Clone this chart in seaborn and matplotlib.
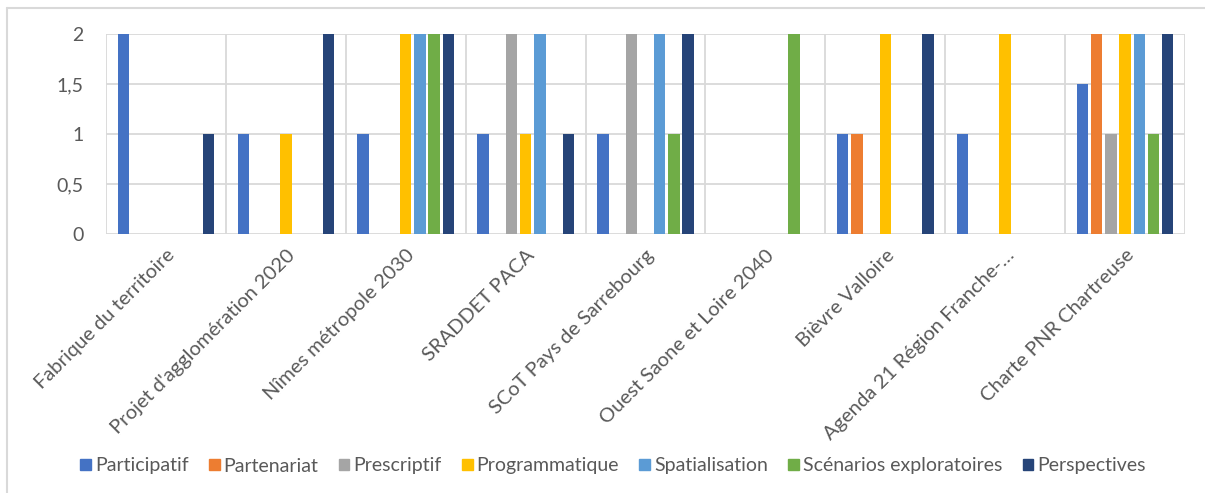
import pandas as pd
import matplotlib.pyplot as plt
import matplotlib.patches as mpatches
from matplotlib.ticker import FuncFormatter
import seaborn as sns

categories = ["Fabrique du territoire", "Projet d'agglomération 2020", "Nîmes métropole 2030",
              "SRADDET PACA", "SCoT Pays de Sarrebourg", "Ouest Saone et Loire 2040",
              "Bièvre Valloire", "Agenda 21 Région Franche-…", "Charte PNR Chartreuse"]
series = ["Participatif", "Partenariat", "Prescriptif", "Programmatique",
          "Spatialisation", "Scénarios exploratoires", "Perspectives"]

participatif = [2, 1, 1, 1, 1, 0, 1, 1, 1.5]
partenariat = [0, 0, 0, 0, 0, 0, 1, 0, 2]
prescriptif = [0, 0, 0, 2, 2, 0, 0, 0, 1]
programmatique = [0, 1, 2, 1, 0, 0, 2, 2, 2]
spatialisation = [0, 0, 2, 2, 2, 0, 0, 0, 2]
scenarios = [0, 0, 2, 0, 1, 2, 0, 0, 1]
perspectives = [1, 2, 2, 1, 2, 0, 2, 0, 2]

yticks = [0, 0.5, 1, 1.5, 2]

colors = ['#4472C4', '#ED7D31', '#A5A5A5', '#FFC000', '#5B9BD5', '#70AD47', '#264478']
TXT = '#595959'
GRID = '#D9D9D9'

values = [participatif, partenariat, prescriptif, programmatique,
          spatialisation, scenarios, perspectives]
rows = []
for s, vals in zip(series, values):
    for c, v in zip(categories, vals):
        rows.append({'cat': c, 'serie': s, 'val': v})
df = pd.DataFrame(rows)

sns.set_style('white')
plt.rcParams['font.family'] = ['Lato', 'DejaVu Sans']

fig = plt.figure(figsize=(12.05, 4.93), dpi=100)
ax = fig.add_axes([106 / 1205, 1 - 234 / 493, 1079 / 1205, 200 / 493])

sns.barplot(data=df, x='cat', y='val', hue='serie', order=categories, hue_order=series,
            palette=colors, width=0.83, gap=0.2, saturation=1, ax=ax, legend=False,
            linewidth=0, zorder=3)

ax.set_xlim(-0.5, len(categories) - 0.5)
ax.set_ylim(0, 2)
ax.set_yticks(yticks)
ax.yaxis.set_major_formatter(FuncFormatter(lambda v, p: ('%g' % v).replace('.', ',')))
for y in yticks:
    ax.axhline(y, color=GRID, lw=1.3, zorder=1)
for i in range(len(categories) + 1):
    ax.axvline(i - 0.5, color=GRID, lw=1.3, zorder=1)
for sp in ax.spines.values():
    sp.set_visible(False)

ax.set_xlabel('')
ax.set_ylabel('')
ax.tick_params(axis='y', length=0, pad=16, labelsize=14, labelcolor=TXT)
ax.tick_params(axis='x', length=0, pad=9, labelsize=14.5, labelcolor=TXT)
plt.setp(ax.get_xticklabels(), rotation=45, ha='right', va='top', rotation_mode='anchor')

handles = [mpatches.Patch(color=c, label=s) for c, s in zip(colors, series)]
fig.legend(handles=handles, loc='center', bbox_to_anchor=(613 / 1205, 1 - 466 / 493),
           ncol=7, frameon=False, fontsize=14, labelcolor=TXT, handlelength=0.55,
           handleheight=0.55, handletextpad=0.2, columnspacing=1.05)

# chart border (only top and left visible in the crop)
fig.add_artist(plt.Line2D([7 / 1205, 7 / 1205], [0, 1 - 8 / 493], color=GRID, lw=1.5))
fig.add_artist(plt.Line2D([7 / 1205, 1], [1 - 8 / 493, 1 - 8 / 493], color=GRID, lw=1.5))

fig.savefig('out.png', dpi=100)
